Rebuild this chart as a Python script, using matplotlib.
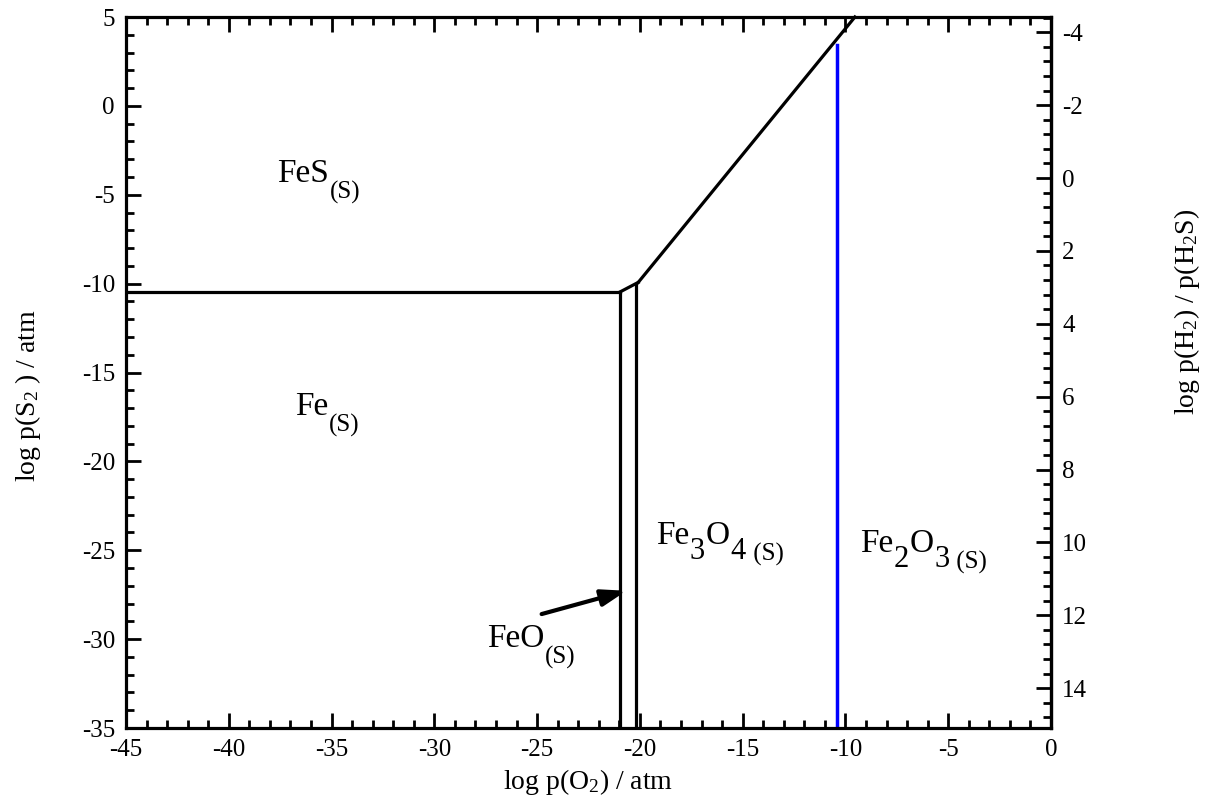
import numpy as np
import matplotlib.pyplot as plt
from matplotlib.ticker import MultipleLocator, FixedLocator

# -----------------------------
# FONTS
# -----------------------------

plt.rcParams['font.family'] = ['Liberation Serif', 'DejaVu Serif']
plt.rcParams['mathtext.fontset'] = 'custom'
plt.rcParams['mathtext.rm'] = 'Liberation Serif'
plt.rcParams['mathtext.it'] = 'Liberation Serif:italic'
plt.rcParams['axes.unicode_minus'] = False

# -----------------------------
# PHASE BOUNDARIES
# -----------------------------

# FeS / Fe boundary
fes_fe_x = [-45.0, -20.97]
fes_fe_y = [-10.47, -10.47]

# short FeS / FeO piece
fes_feo_x = [-20.97, -20.08]
fes_feo_y = [-10.47, -9.93]

# FeS / Fe3O4 boundary
fes_fe3o4_x = [-20.08, -9.54]
fes_fe3o4_y = [-9.93, 5.0]

# Fe / FeO boundary
fe_feo_x = [-20.97, -20.97]
fe_feo_y = [-10.47, -35.0]

# FeO / Fe3O4 boundary
feo_fe3o4_x = [-20.21, -20.21]
feo_fe3o4_y = [-10.0, -35.0]

# Fe3O4 / Fe2O3 boundary (blue)
fe3o4_fe2o3_x = [-10.43, -10.43]
fe3o4_fe2o3_y = [3.42, -35.0]

# arrow for FeO label
arrow_start = (-24.78, -28.59)
arrow_end = (-20.65, -27.28)

# phase labels: pieces of (text, kind) where kind is 'main', 'num' or 'sub'
labels = [
    [('FeS', 'main'), ('(S)', 'sub')],
    [('Fe', 'main'), ('(S)', 'sub')],
    [('FeO', 'main'), ('(S)', 'sub')],
    [('Fe', 'main'), ('3', 'num'), ('O', 'main'), ('4', 'num'), (' (S)', 'sub')],
    [('Fe', 'main'), ('2', 'num'), ('O', 'main'), ('3', 'num'), (' (S)', 'sub')],
]
label_x = [-37.66, -36.78, -27.44, -19.22, -9.3]
label_y = [-4.27, -17.4, -30.44, -24.65, -25.1]

# right axis: log p(H2)/p(H2S) against log p(S2)
r_off = -1.98
r_slope = -0.4878
r_ticks = [-4, -2, 0, 2, 4, 6, 8, 10, 12, 14]

# -----------------------------
# PLOT
# -----------------------------

fig = plt.figure(figsize=(12.11, 8.10), dpi=100)
ax = fig.add_axes([126/1211, 1 - 728/810, 925/1211, 711/810])

lw = 2.3
ax.plot(fes_fe_x, fes_fe_y, color='black', lw=lw)
ax.plot(fes_feo_x, fes_feo_y, color='black', lw=lw)
ax.plot(fes_fe3o4_x, fes_fe3o4_y, color='black', lw=lw, clip_on=False)
ax.plot(fe_feo_x, fe_feo_y, color='black', lw=lw)
ax.plot(feo_fe3o4_x, feo_fe3o4_y, color='black', lw=lw)
ax.plot(fe3o4_fe2o3_x, fe3o4_fe2o3_y, color='#0000ff', lw=2.5)

ax.annotate('', xy=arrow_end, xytext=arrow_start,
            arrowprops=dict(arrowstyle='-|>,head_length=1.5,head_width=0.5',
                            color='black', lw=3, shrinkA=0, shrinkB=0))

# label pieces chained one after another
sizes = {'main': 24, 'num': 22, 'sub': 18}
drops = {'main': 0, 'num': -11, 'sub': -12}
for parts, x, y in zip(labels, label_x, label_y):
    prev = None
    for txt, kind in parts:
        if prev is None:
            prev = ax.text(x, y, txt, fontsize=sizes[kind], ha='left', va='baseline')
        else:
            prev = ax.annotate(txt, xy=(1, y), xycoords=(prev, 'data'),
                               xytext=(0.5, drops[kind]), textcoords='offset points',
                               fontsize=sizes[kind], ha='left', va='baseline')

ax.set_xlim(-45, 0)
ax.set_ylim(-35, 5)

ax.xaxis.set_major_locator(MultipleLocator(5))
ax.xaxis.set_minor_locator(MultipleLocator(1))
ax.yaxis.set_major_locator(MultipleLocator(5))
ax.yaxis.set_minor_locator(MultipleLocator(1))

ax.tick_params(which='both', direction='in', top=True, right=False, width=2)
ax.tick_params(which='major', length=11, labelsize=18, pad=8)
ax.tick_params(which='minor', length=6)
for s in ax.spines.values():
    s.set_linewidth(2.3)

ax.set_xlabel(r'log p(O$_2$) / atm', fontsize=20, labelpad=4)
fig.text(28/1211, 1 - 396/810, r'log p(S$_2$ ) / atm', fontsize=20,
         rotation=90, ha='center', va='center')

sec = ax.secondary_yaxis('right', functions=(lambda v: r_off + r_slope * v,
                                             lambda r: (r - r_off) / r_slope))
sec.yaxis.set_major_locator(FixedLocator(r_ticks))
sec.yaxis.set_minor_locator(FixedLocator(np.arange(-4.4, 15.2, 0.4)))
sec.tick_params(which='both', direction='in', width=2)
sec.tick_params(which='major', length=11, labelsize=18, pad=8)
sec.tick_params(which='minor', length=6)
sec.spines['right'].set_linewidth(2.3)

fig.text(1187/1211, 1 - 312/810, r'log p(H$_2$) / p(H$_2$S)', fontsize=20,
         rotation=90, ha='center', va='center')

plt.savefig('out.png', dpi=100)
